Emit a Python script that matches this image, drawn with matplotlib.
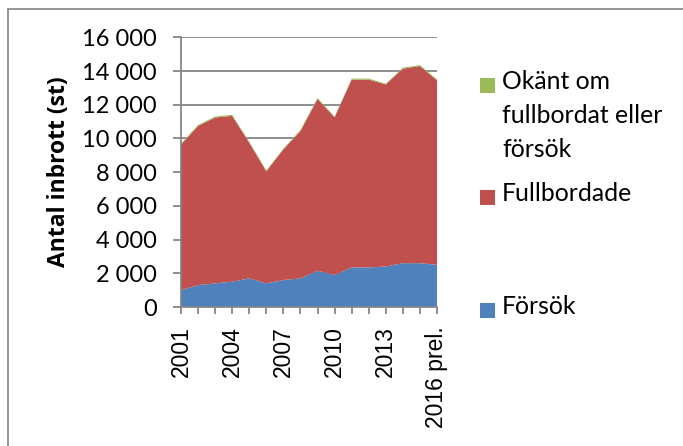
import matplotlib
matplotlib.use("Agg")
import matplotlib.pyplot as plt
from matplotlib.lines import Line2D
from matplotlib.patches import Rectangle
from matplotlib.ticker import FuncFormatter, FixedLocator

# Data: residential burglaries per year, split by outcome
years = [2001, 2002, 2003, 2004, 2005, 2006, 2007, 2008,
         2009, 2010, 2011, 2012, 2013, 2014, 2015, 2016]
forsok = [1000, 1300, 1400, 1500, 1700, 1400, 1600, 1700,
          2150, 1900, 2350, 2350, 2400, 2600, 2600, 2500]
fullbordade = [8630, 9440, 9840, 9840, 8050, 6650, 7750, 8740,
               10190, 9350, 11140, 11140, 10800, 11540, 11690, 10950]
okant = [70, 60, 60, 60, 50, 50, 50, 60,
         60, 50, 60, 60, 50, 60, 60, 50]

series_labels = ["Försök", "Fullbordade", "Okänt om\nfullbordat eller\nförsök"]
series_colors = ["#4F81BD", "#C0504D", "#9BBB59"]

tick_years = [2001, 2004, 2007, 2010, 2013, 2016]
tick_labels = ["2001", "2004", "2007", "2010", "2013", "2016 prel."]

W, H = 683, 446
fig = plt.figure(figsize=(W / 100, H / 100), dpi=100)
fig.patch.set_facecolor("white")

# Plot area
ax = fig.add_axes([181 / W, 1 - 307 / H, (437 - 181) / W, (307 - 37.3) / H])
ax.stackplot(years, forsok, fullbordade, okant, colors=series_colors,
             linewidth=0)
ax.set_xlim(years[0], years[-1])
ax.set_ylim(0, 16000)

grid_c = "#868686"
ax.set_yticks(range(0, 16001, 2000))
ax.yaxis.set_major_formatter(FuncFormatter(lambda v, p: f"{int(v):,}".replace(",", " ")))
ax.grid(axis="y", color=grid_c, linewidth=1.3)
ax.set_axisbelow(True)

ax.xaxis.set_major_locator(FixedLocator(tick_years))
ax.set_xticklabels(tick_labels, rotation=90, family="Liberation Sans", fontsize=16.5)
ax.xaxis.set_minor_locator(FixedLocator(years))
ax.tick_params(axis="x", which="both", direction="out", length=5, width=1.3,
               color=grid_c, pad=9)
ax.tick_params(axis="y", direction="out", length=5.5, width=1.3, color=grid_c,
               pad=12, labelsize=17)
for lab in ax.get_yticklabels():
    lab.set_family("Lato")

for s in ["top", "right"]:
    ax.spines[s].set_visible(False)
for s in ["left", "bottom"]:
    ax.spines[s].set_color(grid_c)
    ax.spines[s].set_linewidth(1.3)

ax.set_ylabel("Antal inbrott (st)", family="Open Sans", fontweight="bold",
              fontsize=16.5)
ax.yaxis.set_label_coords((71 - 181) / 256, 0.5)

# Legend entries, drawn to the right of the plot
legend_rows = [(series_labels[2], series_colors[2], 78),
               (series_labels[1], series_colors[1], 190),
               (series_labels[0], series_colors[0], 303)]
for label, color, top in legend_rows:
    fig.add_artist(Rectangle((480 / W, 1 - (top + 15) / H), 15 / W, 15 / H,
                             transform=fig.transFigure, facecolor=color,
                             edgecolor="none"))
    fig.text(502 / W, 1 - (top - 8) / H, label, family="Lato", fontsize=17.8,
             va="top", ha="left", linespacing=1.58)

# Outer chart frame (left and top edges)
frame_c = "#8C8C8C"
fig.add_artist(Line2D([8 / W, 8 / W], [0, 1 - 9 / H], transform=fig.transFigure,
                      color=frame_c, linewidth=1.3))
fig.add_artist(Line2D([8 / W, 1], [1 - 9 / H, 1 - 9 / H], transform=fig.transFigure,
                      color=frame_c, linewidth=1.3))

fig.savefig("out.png", dpi=100)
